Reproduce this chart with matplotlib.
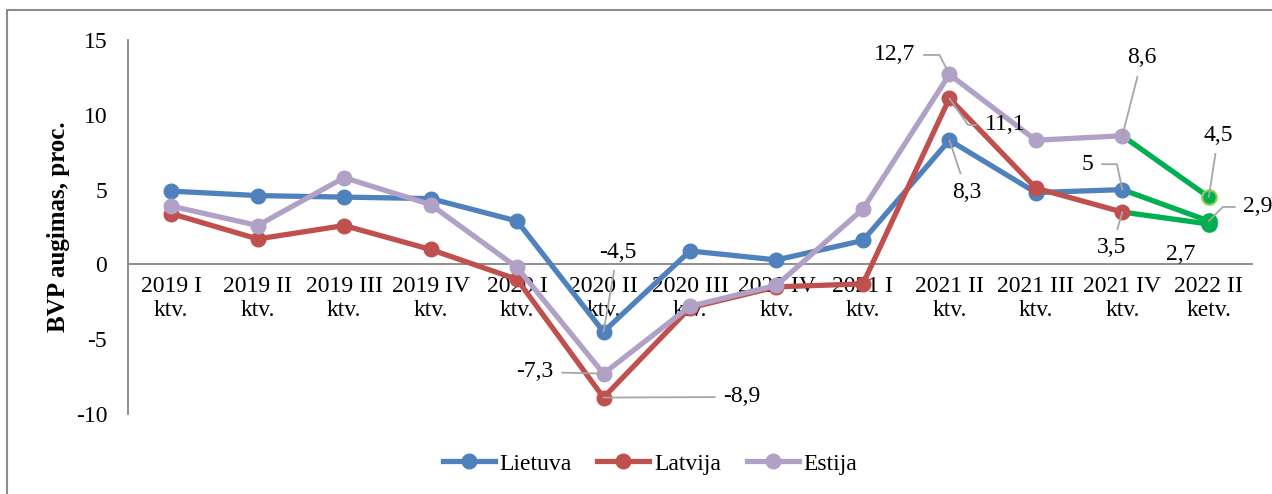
import matplotlib.pyplot as plt
from matplotlib.patches import Rectangle

plt.rcParams['font.family'] = ['Liberation Serif', 'DejaVu Serif']

quarters = ["2019 I\nktv.", "2019 II\nktv.", "2019 III\nktv.", "2019 IV\nktv.",
            "2020 I\nktv.", "2020 II\nktv.", "2020 III\nktv.", "2020 IV\nktv.",
            "2021 I\nktv.", "2021 II\nktv.", "2021 III\nktv.", "2021 IV\nktv.",
            "2022 II\nketv."]
lietuva = [4.9, 4.6, 4.5, 4.4, 2.9, -4.5, 0.9, 0.3, 1.6, 8.3, 4.8, 5.0, 2.9]
latvija = [3.4, 1.7, 2.6, 1.0, -1.0, -8.9, -2.9, -1.5, -1.3, 11.1, 5.1, 3.5, 2.7]
estija = [3.9, 2.6, 5.8, 4.0, -0.2, -7.3, -2.8, -1.4, 3.7, 12.7, 8.3, 8.6, 4.5]

series = [("Lietuva", lietuva, "#4F81BD"),
          ("Latvija", latvija, "#C0504D"),
          ("Estija", estija, "#B2A1C7")]
green = "#00B050"
fs = 17

fig = plt.figure(figsize=(12.72, 4.94), dpi=100)
ax = fig.add_axes([0.1006, 0.1619, 0.8837, 0.7571])

x = list(range(len(quarters)))
z = 3
for name, vals, col in series:
    # last segment is green
    ax.plot(x[-2:], vals[-2:], color=green, lw=3.8, zorder=z)
    ax.plot(x[:-1], vals[:-1], color=col, lw=3.8, marker='o', ms=10.5,
            label=name, zorder=z + 0.5)
    edge = "#92D050" if name == "Estija" else green
    ax.plot(x[-1:], vals[-1:], linestyle='none', marker='o', ms=10.5,
            mfc=green, mec=edge, mew=1.5, zorder=z + 0.6)
    z += 1

ax.set_xlim(-0.5, len(quarters) - 0.5)
ax.set_ylim(-10, 15)
ax.set_yticks([-10, -5, 0, 5, 10, 15])
ax.set_yticklabels(["-10", "-5", "0", "5", "10", "15"])
ax.set_xticks(x)
ax.set_xticklabels(quarters, linespacing=1.25)
ax.tick_params(axis='both', length=0, labelsize=fs)
ax.tick_params(axis='y', pad=15)
ax.tick_params(axis='x', pad=8)

for s in ['top', 'right']:
    ax.spines[s].set_visible(False)
ax.spines['bottom'].set_position(('data', 0))
ax.spines['bottom'].set_color('#868686')
ax.spines['left'].set_color('#868686')
ax.spines['bottom'].set_linewidth(1.3)
ax.spines['left'].set_linewidth(1.3)

ax.set_ylabel("BVP augimas, proc.", fontsize=18, fontweight='bold', labelpad=4)

# data labels: (text, point x, point y, text x, text y, connection)
lc = '#A6A6A6'
labels = [
    ("-4,5", 5, lietuva[5], 5.16, 0.83, "arc3"),
    ("-7,3", 5, estija[5], 4.21, -7.19, "arc3"),
    ("-8,9", 5, latvija[5], 6.60, -8.86, "arc3"),
    ("12,7", 9, estija[9], 8.37, 14.0, "angle,angleA=0,angleB=117,rad=0"),
    ("11,1", 9, latvija[9], 9.64, 9.32, "angle,angleA=0,angleB=-55,rad=0"),
    ("8,3", 9, lietuva[9], 9.20, 4.84, "arc3"),
    ("8,6", 11, estija[11], 11.23, 13.8, "arc3"),
    ("5", 11, lietuva[11], 10.60, 6.7, "angle,angleA=0,angleB=102,rad=0"),
    ("3,5", 11, latvija[11], 10.88, 1.1, "arc3"),
    ("4,5", 12, estija[12], 12.11, 8.65, "arc3"),
    ("2,9", 12, lietuva[12], 12.57, 3.84, "angle,angleA=0,angleB=45,rad=0"),
]
for txt, px, py, tx, ty, cs in labels:
    ax.annotate(txt, xy=(px, py), xytext=(tx, ty), fontsize=fs,
                ha='center', va='center', zorder=10,
                arrowprops=dict(arrowstyle='-', color=lc, lw=1.3,
                                shrinkA=4, shrinkB=0, connectionstyle=cs))
ax.text(11.67, 0.63, "2,7", fontsize=fs, ha='center', va='center', zorder=10)

fig.legend(loc='center', bbox_to_anchor=(650 / 1272, 1 - 464 / 494), ncol=3,
           frameon=False, fontsize=fs, handlelength=2.2, columnspacing=1.1,
           handletextpad=0.2)

fig.patches.append(Rectangle((7 / 1272, -0.1), 1.2, 0.1 + 1 - 10 / 494,
                             transform=fig.transFigure, fill=False,
                             edgecolor='#8C8C8C', lw=1.5))

fig.savefig("out.png", dpi=100)
